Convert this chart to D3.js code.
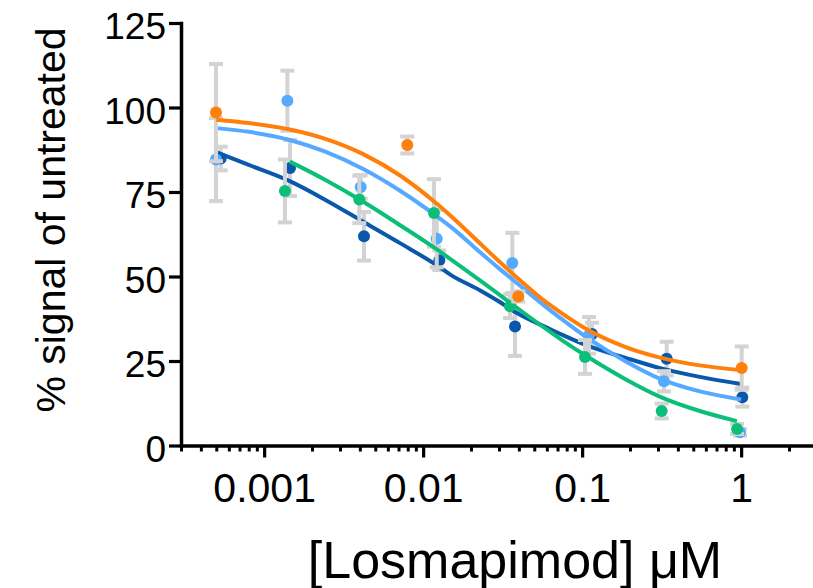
<!DOCTYPE html>
<html>
<head>
<meta charset="utf-8">
<script src="https://cdn.jsdelivr.net/npm/d3@7"></script>
<style>
  body { margin: 0; background: #fff; }
  text { font-family: "Liberation Sans", Arial, Helvetica, sans-serif; fill: #000; }
</style>
</head>
<body>
<svg id="chart"></svg>
<script>
const width = 813;
const height = 588;

// y axis ticks / x axis decade ticks
const yTicks = [0, 25, 50, 75, 100, 125];
const xMajor = [0.001, 0.01, 0.1, 1];
const xMajorLabels = ['0.001', '0.01', '0.1', '1'];

// measured points (concentration uM, % signal, error)
const dkBlueConc = [0.000533, 0.001455, 0.004247, 0.01264, 0.03783, 0.1153, 0.3402, 1.017];
const dkBlueVal  = [84.9, 82.1, 61.9, 54.8, 35.2, 33.0, 25.7, 14.3];
const dkBlueErr  = [3.5, 8.3, 7.2, 2.9, 8.7, 3.3, 5.0, 2.8];

const ltBlueConc = [0.000498, 0.0014, 0.004048, 0.01217, 0.03637, 0.1104, 0.3272, 0.984];
const ltBlueVal  = [84.6, 102.0, 76.5, 61.2, 54.0, 32.6, 19.0, 3.9];
const ltBlueErr  = [12.3, 8.9, 3.5, 8.5, 8.9, 5.4, 3.0, 1.0];

const greenConc = [0.001352, 0.003968, 0.0117, 0.0352, 0.1042, 0.3164, 0.943];
const greenVal  = [75.3, 72.8, 68.8, 41.2, 26.2, 10.2, 4.9];
const greenErr  = [9.3, 7.0, 10.0, 3.5, 5.0, 2.2, 1.5];

const orangeConc = [0.000498, 0.00795, 0.03967, 1.008];
const orangeVal  = [98.5, 88.9, 44.1, 22.9];
const orangeErr  = [14.4, 2.5, 1.5, 6.4];

// fitted curves
const fitConc = [0.0005, 0.0008, 0.00145, 0.0024, 0.0042, 0.0072, 0.0122, 0.015, 0.023, 0.03, 0.037, 0.063, 0.073, 0.107, 0.186, 0.31, 0.55, 1];
const dkBlueFit = [86.8, 83.0, 78.2, 72.8, 66.2, 59.8, 53.3, 50.4, 45.8, 42.6, 39.8, 34.4, 33.0, 29.6, 26.0, 22.9, 20.3, 18.2];
const ltBlueFit = [93.9, 92.8, 90.4, 87.0, 81.8, 75.3, 67.8, 64.6, 57.0, 52.4, 48.9, 40.0, 37.7, 32.0, 25.0, 19.7, 16.0, 13.6];
const orangeFit = [96.4, 95.4, 93.5, 90.8, 86.2, 79.8, 71.5, 67.8, 59.6, 54.5, 50.6, 41.5, 39.4, 34.4, 29.2, 26.0, 23.7, 22.3];
const greenFitConc = [0.00145, 0.0024, 0.0042, 0.0072, 0.0122, 0.015, 0.023, 0.03, 0.037, 0.063, 0.073, 0.107, 0.186, 0.31, 0.55, 0.94];
const greenFit = [84.0, 78.7, 72.1, 65.1, 58.0, 55.0, 48.7, 44.7, 41.5, 33.6, 31.5, 26.4, 19.7, 14.4, 10.2, 7.2];

const series = [
  { color: '#0a58ab', conc: dkBlueConc, val: dkBlueVal, err: dkBlueErr, fitX: fitConc, fitY: dkBlueFit },
  { color: '#55a9ff', conc: ltBlueConc, val: ltBlueVal, err: ltBlueErr, fitX: fitConc, fitY: ltBlueFit },
  { color: '#0cbf78', conc: greenConc, val: greenVal, err: greenErr, fitX: greenFitConc, fitY: greenFit },
  { color: '#ff7f0a', conc: orangeConc, val: orangeVal, err: orangeErr, fitX: fitConc, fitY: orangeFit }
];

const svg = d3.select('svg#chart').attr('width', width).attr('height', height);

var x = d3.scaleLog().domain([0.0003, 3]).range([181, 817]);
var y = d3.scaleLinear().domain([0, 125]).range([445.5, 23]);

// y axis
var yAxis = svg.append('g')
  .attr('transform', 'translate(' + x(0.0003) + ',0)')
  .call(d3.axisLeft(y).tickValues(yTicks).tickSize(12).tickSizeOuter(0).tickPadding(3));
yAxis.select('.domain').attr('stroke-width', 3.5).attr('stroke-linecap', 'square');
yAxis.selectAll('.tick line').attr('stroke-width', 3.2);
yAxis.selectAll('.tick text').attr('font-size', 37).attr('dy', '0.42em');

// x axis, minor ticks first
var minor = x.ticks().filter(d => xMajor.indexOf(d) < 0);
var xMinor = svg.append('g')
  .attr('transform', 'translate(0,' + y(0) + ')')
  .call(d3.axisBottom(x).tickValues(minor).tickSize(6).tickSizeOuter(0).tickFormat(''));
xMinor.select('.domain').remove();
xMinor.selectAll('.tick line').attr('stroke-width', 3);

var xAxis = svg.append('g')
  .attr('transform', 'translate(0,' + y(0) + ')')
  .call(d3.axisBottom(x).tickValues(xMajor).tickSize(12).tickSizeOuter(0).tickPadding(15)
    .tickFormat((d, i) => xMajorLabels[i]));
xAxis.select('.domain').attr('stroke-width', 3.5).attr('stroke-linecap', 'square');
xAxis.selectAll('.tick line').attr('stroke-width', 3.2);
xAxis.selectAll('.tick text').attr('font-size', 41);
svg.selectAll('.domain, .tick line').attr('stroke', '#000');

// axis titles
svg.append('text')
  .attr('transform', 'translate(65,220) rotate(-90)')
  .attr('text-anchor', 'middle')
  .attr('font-size', 41)
  .text('% signal of untreated');

svg.append('text')
  .attr('x', 515).attr('y', 578)
  .attr('text-anchor', 'middle')
  .attr('font-size', 52)
  .text('[Losmapimod] \u03bcM');

// data, drawn series by series
var line = d3.line().x(d => x(d[0])).y(d => y(d[1])).curve(d3.curveMonotoneX);
var capW = 7;

series.forEach(s => {
  var g = svg.append('g');
  var pts = s.conc.map((c, i) => ({ c: c, v: s.val[i], e: s.err[i] }));

  var bars = g.append('g').attr('stroke', '#d3d3d3').attr('stroke-width', 4);
  pts.forEach(p => {
    var cx = x(p.c);
    bars.append('line').attr('x1', cx).attr('x2', cx).attr('y1', y(p.v + p.e)).attr('y2', y(p.v - p.e));
    bars.append('line').attr('x1', cx - capW).attr('x2', cx + capW).attr('y1', y(p.v + p.e)).attr('y2', y(p.v + p.e));
    bars.append('line').attr('x1', cx - capW).attr('x2', cx + capW).attr('y1', y(p.v - p.e)).attr('y2', y(p.v - p.e));
  });

  g.append('path')
    .datum(s.fitX.map((c, i) => [c, s.fitY[i]]))
    .attr('d', line)
    .attr('fill', 'none')
    .attr('stroke', s.color)
    .attr('stroke-width', 4);

  g.selectAll('circle').data(pts).enter().append('circle')
    .attr('cx', d => x(d.c))
    .attr('cy', d => y(d.v))
    .attr('r', 6)
    .attr('fill', s.color);
});
</script>
</body>
</html>
